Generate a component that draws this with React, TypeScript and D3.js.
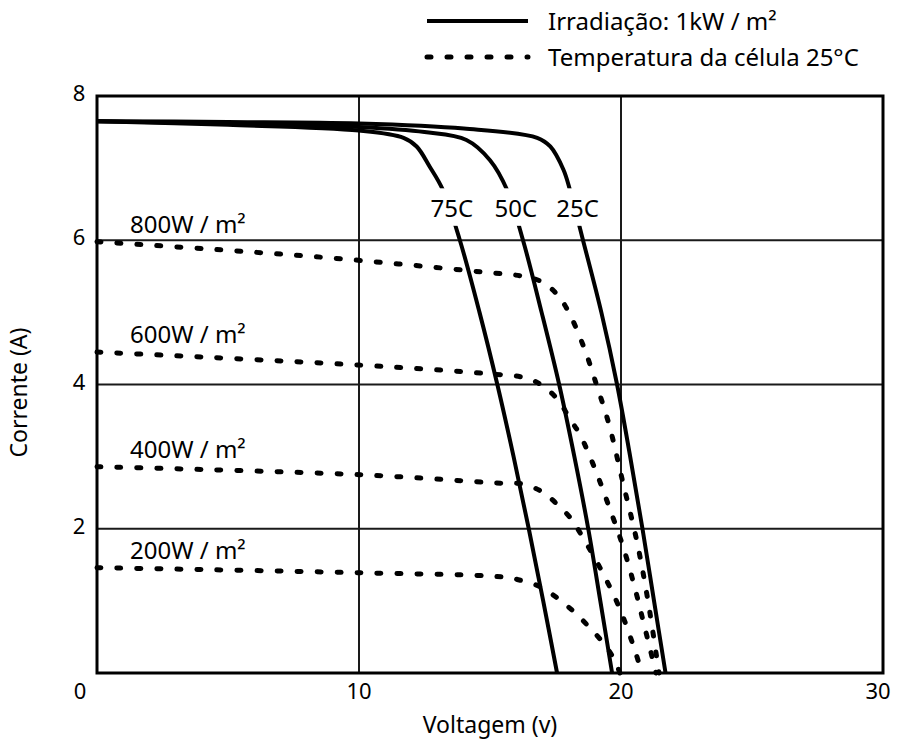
import React, { useRef, useEffect } from 'react';
import * as d3 from 'd3';

type Pt = [number, number]; // [voltage, current]

// 1 kW/m² curves at different cell temperatures
const temp25C: Pt[] = [[0, 7.65], [5, 7.64], [10, 7.62], [14, 7.55], [16.8, 7.42], [17.3, 7.3], [17.8, 6.98], [18.05, 6.7], [18.55, 6.0], [19.25, 5.0], [19.85, 4.0], [20.35, 3.0], [20.82, 2.0], [21.26, 1.0], [21.7, 0]];
const temp50C: Pt[] = [[0, 7.65], [5, 7.62], [10, 7.57], [12.5, 7.5], [14.1, 7.39], [15.0, 7.11], [15.65, 6.7], [16.26, 6.0], [16.97, 5.0], [17.64, 4.0], [18.22, 3.0], [18.75, 2.0], [19.21, 1.0], [19.66, 0]];
const temp75C: Pt[] = [[0, 7.65], [5, 7.6], [10, 7.52], [11.7, 7.42], [12.2, 7.3], [12.7, 7.02], [13.2, 6.7], [13.85, 6.0], [14.6, 5.0], [15.28, 4.0], [15.9, 3.0], [16.48, 2.0], [17.03, 1.0], [17.56, 0]];

// 25°C curves at different irradiance levels
const irr800: Pt[] = [[0, 5.98], [5, 5.86], [9.4, 5.74], [14.7, 5.56], [16.26, 5.5], [17.0, 5.42], [17.56, 5.25], [17.98, 5.02], [18.59, 4.51], [19.08, 3.98], [19.54, 3.45], [20.08, 2.63], [20.61, 1.82], [21.03, 1.0], [21.45, 0]];
const irr600: Pt[] = [[0, 4.45], [10, 4.27], [14.9, 4.15], [16.37, 4.09], [17.06, 3.97], [17.63, 3.77], [18.02, 3.54], [18.44, 3.3], [19.05, 2.79], [19.58, 2.27], [20.08, 1.75], [20.5, 1.22], [20.88, 0.67], [21.34, 0]];
const irr400: Pt[] = [[0, 2.86], [10, 2.75], [15.5, 2.63], [16.26, 2.62], [17.0, 2.51], [17.56, 2.34], [18.09, 2.14], [18.51, 1.9], [19.27, 1.41], [19.92, 0.92], [20.46, 0.39], [20.8, 0]];
const irr200: Pt[] = [[0, 1.46], [10, 1.39], [15.5, 1.33], [16.22, 1.28], [16.95, 1.19], [17.6, 1.03], [18.17, 0.86], [18.7, 0.67], [19.2, 0.47], [19.66, 0.24], [19.96, 0]];

const tempCurves = [temp75C, temp50C, temp25C];
const tempLabels = ['75C', '50C', '25C'];
const irrCurves = [irr800, irr600, irr400, irr200];
const irrLabels = ['800W / m²', '600W / m²', '400W / m²', '200W / m²'];

const xTicks = [0, 10, 20, 30];
const yTicks = [0, 2, 4, 6, 8];
const legendLabels = ['Irradiação: 1kW / m²', 'Temperatura da célula 25°C'];

const W = 900;
const H = 753;
const FONT = '"Noto Sans", sans-serif';
const DOTS = '4 16';

// voltage at a given current, linear between read points
function voltageAt(curve: Pt[], current: number): number {
    for (let i = 1; i < curve.length; i++) {
        const [v0, i0] = curve[i - 1];
        const [v1, i1] = curve[i];
        if ((i0 - current) * (i1 - current) <= 0 && i0 !== i1) {
            return v0 + (v1 - v0) * (i0 - current) / (i0 - i1);
        }
    }
    return curve[curve.length - 1][0];
}

export default function App() {
    const svgRef = useRef<SVGSVGElement>(null);

    useEffect(() => {
        if (!svgRef.current) return;
        const svg = d3.select(svgRef.current);
        svg.selectAll('*').remove();

        const x = d3.scaleLinear().domain([0, 30]).range([97, 883]);
        const y = d3.scaleLinear().domain([0, 8]).range([673, 96]);

        // centripetal catmull-rom copes with both the flat and the steep parts
        const line = d3.line<Pt>()
            .x(d => x(d[0]))
            .y(d => y(d[1]))
            .curve(d3.curveCatmullRom.alpha(0.5));

        // grid
        const grid = svg.append('g');
        grid.selectAll('line.v')
            .data(xTicks.slice(1, -1))
            .join('line')
            .attr('x1', d => x(d)).attr('x2', d => x(d))
            .attr('y1', y(0)).attr('y2', y(8))
            .attr('stroke', '#1a1a1a').attr('stroke-width', 2);
        grid.selectAll('line.h')
            .data(yTicks.slice(1, -1))
            .join('line')
            .attr('x1', x(0)).attr('x2', x(30))
            .attr('y1', d => y(d)).attr('y2', d => y(d))
            .attr('stroke', '#1a1a1a').attr('stroke-width', 2);

        // dotted irradiance curves
        svg.append('g')
            .selectAll('path')
            .data(irrCurves)
            .join('path')
            .attr('d', d => line(d))
            .attr('fill', 'none')
            .attr('stroke', '#000')
            .attr('stroke-width', 5)
            .attr('stroke-linecap', 'round')
            .attr('stroke-dasharray', DOTS);

        irrCurves.forEach((c, i) => {
            svg.append('text')
                .attr('x', x(0) + 33)
                .attr('y', y(c[0][1]) - 9)
                .attr('font-family', FONT)
                .attr('font-size', 24)
                .attr('fill', '#000')
                .text(irrLabels[i]);
        });

        // solid temperature curves
        svg.append('g')
            .selectAll('path')
            .data(tempCurves)
            .join('path')
            .attr('d', d => line(d))
            .attr('fill', 'none')
            .attr('stroke', '#000')
            .attr('stroke-width', 4);

        // labels break the solid curves
        tempCurves.forEach((c, i) => {
            const cx = x(voltageAt(c, 6.45)) + 3;
            svg.append('rect')
                .attr('x', cx - 25)
                .attr('y', y(6.72))
                .attr('width', 50)
                .attr('height', y(6.2) - y(6.72))
                .attr('fill', '#fff');
            svg.append('text')
                .attr('x', cx)
                .attr('y', y(6.45) + 9)
                .attr('text-anchor', 'middle')
                .attr('font-family', FONT)
                .attr('font-size', 24)
                .attr('fill', '#000')
                .text(tempLabels[i]);
        });

        // frame
        svg.append('rect')
            .attr('x', x(0)).attr('y', y(8))
            .attr('width', x(30) - x(0))
            .attr('height', y(0) - y(8))
            .attr('fill', 'none')
            .attr('stroke', '#000')
            .attr('stroke-width', 3);

        // tick labels
        svg.append('g')
            .selectAll('text')
            .data(xTicks)
            .join('text')
            .attr('x', d => d === 0 ? x(d) - 17 : x(d) - (d === 30 ? 5 : 0))
            .attr('y', 699)
            .attr('text-anchor', 'middle')
            .attr('font-family', FONT)
            .attr('font-size', 22)
            .text(d => String(d));
        svg.append('g')
            .selectAll('text')
            .data(yTicks.slice(1))
            .join('text')
            .attr('x', 79)
            .attr('y', d => y(d) + 5)
            .attr('text-anchor', 'middle')
            .attr('font-family', FONT)
            .attr('font-size', 22)
            .text(d => String(d));

        // axis titles
        svg.append('text')
            .attr('x', x(15))
            .attr('y', 733)
            .attr('text-anchor', 'middle')
            .attr('font-family', FONT)
            .attr('font-size', 23)
            .text('Voltagem (v)');
        svg.append('text')
            .attr('transform', `translate(27, ${(y(0) + y(8)) / 2 + 8}) rotate(-90)`)
            .attr('text-anchor', 'middle')
            .attr('font-family', FONT)
            .attr('font-size', 23)
            .text('Corrente (A)');

        // legend
        const legend = svg.append('g');
        legendLabels.forEach((label, i) => {
            const ly = 21 + i * 36;
            legend.append('line')
                .attr('x1', 427).attr('x2', 528)
                .attr('y1', ly).attr('y2', ly)
                .attr('stroke', '#000')
                .attr('stroke-width', i === 0 ? 4 : 5)
                .attr('stroke-linecap', i === 0 ? 'butt' : 'round')
                .attr('stroke-dasharray', i === 0 ? null : DOTS);
            legend.append('text')
                .attr('x', 548)
                .attr('y', ly + 9)
                .attr('font-family', FONT)
                .attr('font-size', 24)
                .text(label);
        });
    }, []);

    return (
        <svg
            ref={svgRef}
            width={W}
            height={H}
            style={{ position: 'absolute', left: 0, top: 0, background: '#fff' }}
        />
    );
}
